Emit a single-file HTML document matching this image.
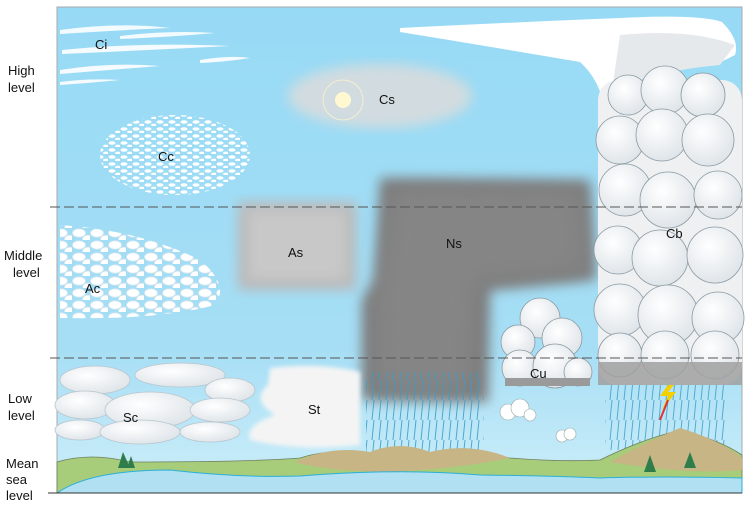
<!DOCTYPE html>
<html><head><style>
body{margin:0;background:#fff;width:750px;height:508px;overflow:hidden;font-family:"Liberation Sans",sans-serif}
</style></head><body>
<svg width="750" height="508" viewBox="0 0 750 508" xmlns="http://www.w3.org/2000/svg" font-family="Liberation Sans, sans-serif">
<defs>
<linearGradient id="sky" x1="0" y1="0" x2="0" y2="1">
<stop offset="0" stop-color="#97daf5"/><stop offset="0.7" stop-color="#a6def5"/><stop offset="1" stop-color="#cdeef9"/></linearGradient>
<radialGradient id="cl" cx="0.4" cy="0.35" r="0.7"><stop offset="0" stop-color="#fff"/><stop offset="1" stop-color="#dde3e8"/></radialGradient>
<filter id="b2"><feGaussianBlur stdDeviation="2"/></filter>
<filter id="b6"><feGaussianBlur stdDeviation="6"/></filter>
<filter id="b10"><feGaussianBlur stdDeviation="10"/></filter>
<pattern id="speck" width="12" height="7" patternUnits="userSpaceOnUse">
<ellipse cx="4" cy="3" rx="3.5" ry="1.8" fill="#fff"/><ellipse cx="10" cy="6" rx="3" ry="1.4" fill="#fff"/></pattern>
<pattern id="ac" width="18" height="12" patternUnits="userSpaceOnUse">
<ellipse cx="7" cy="5" rx="6.5" ry="4.2" fill="#fff" stroke="#d5e6ee" stroke-width="0.8"/><ellipse cx="16" cy="11" rx="5.5" ry="3.8" fill="#fff" stroke="#d5e6ee" stroke-width="0.8"/></pattern>
<pattern id="rain" width="7" height="20" patternUnits="userSpaceOnUse">
<line x1="3" y1="0" x2="1" y2="20" stroke="#3a9cc7" stroke-width="1"/></pattern>
</defs>
<rect x="57" y="7" width="685" height="486" fill="url(#sky)" stroke="#aaa" stroke-width="1"/>
<!-- Ci -->
<g fill="#fff" opacity="0.9">
<path d="M60 30 Q120 22 170 28 Q120 30 60 34Z"/><path d="M62 50 Q140 42 230 46 Q150 50 62 54Z"/>
<path d="M60 70 Q110 62 160 66 Q110 70 60 74Z"/><path d="M120 36 Q170 30 215 33 Q170 37 120 39Z"/>
<path d="M60 82 Q90 78 120 80 Q90 83 60 85Z"/><path d="M200 60 Q230 55 250 58 Q225 62 200 63Z"/>
</g>
<!-- Cs -->
<ellipse cx="380" cy="96" rx="92" ry="32" fill="#dcdcdc" filter="url(#b6)" opacity="0.85"/>
<circle cx="343" cy="100" r="8" fill="#fff8d0"/><circle cx="343" cy="100" r="20" fill="none" stroke="#f3efd0" stroke-width="1"/>
<!-- Cc -->
<ellipse cx="175" cy="155" rx="75" ry="40" fill="url(#speck)"/>
<!-- Ac -->
<path d="M60 225 Q140 230 200 260 Q230 285 215 305 Q160 320 60 318Z" fill="url(#ac)"/>
<!-- As -->
<rect x="238" y="202" width="118" height="88" fill="#b9b9b9" filter="url(#b6)"/>
<rect x="248" y="210" width="98" height="70" fill="#c8c8c8" filter="url(#b6)"/>
<!-- Ns -->
<g filter="url(#b6)">
<path d="M380 178 L590 180 L596 280 L490 290 L488 402 L362 400 L362 300 L375 280Z" fill="#7d7d7d"/>
</g>
<path d="M395 190 L580 192 L585 270 L475 280 L470 390 L375 390 L378 290Z" fill="#858585" filter="url(#b10)"/>
<!-- Cb anvil -->
<path d="M400 28 Q520 22 620 18 Q700 14 722 22 Q740 40 735 55 L715 65 Q650 70 630 75 Q612 85 610 100 L605 110 Q600 80 580 62 Q480 45 400 32Z" fill="#fff"/>
<path d="M620 35 Q690 28 735 45 L720 65 Q660 70 612 90Z" fill="#e6e9ec"/>
<!-- Cb column -->
<rect x="598" y="80" width="144" height="305" rx="20" fill="#eef0f2"/>
<g stroke="#8a9aa2" stroke-width="0.8" fill="url(#cl)">
<circle cx="628" cy="95" r="20"/><circle cx="665" cy="90" r="24"/><circle cx="703" cy="95" r="22"/>
<circle cx="620" cy="140" r="24"/><circle cx="662" cy="135" r="26"/><circle cx="708" cy="140" r="26"/>
<circle cx="625" cy="190" r="26"/><circle cx="668" cy="200" r="28"/><circle cx="718" cy="195" r="24"/>
<circle cx="618" cy="250" r="24"/><circle cx="660" cy="258" r="28"/><circle cx="715" cy="255" r="28"/>
<circle cx="620" cy="310" r="26"/><circle cx="668" cy="315" r="30"/><circle cx="718" cy="318" r="26"/>
<circle cx="620" cy="355" r="22"/><circle cx="665" cy="355" r="24"/><circle cx="715" cy="355" r="24"/>
</g>
<rect x="598" y="362" width="144" height="23" fill="#a0a0a0" opacity="0.85"/>
<rect x="605" y="385" width="120" height="65" fill="url(#rain)" opacity="0.8"/>
<path d="M668 385 L660 396 L668 396 L662 410 L676 392 L668 392 L674 385Z" fill="#f5d000"/>
<path d="M668 400 L660 420" stroke="#d33" stroke-width="2"/>
<!-- Cu -->
<g stroke="#8a9aa2" stroke-width="0.8" fill="url(#cl)">
<circle cx="540" cy="318" r="20"/><circle cx="518" cy="342" r="17"/><circle cx="562" cy="338" r="20"/>
<circle cx="520" cy="368" r="18"/><circle cx="555" cy="366" r="22"/><circle cx="578" cy="372" r="14"/>
</g>
<rect x="505" y="378" width="85" height="8" fill="#9a9a9a"/>
<g fill="#fff" stroke="#9aa" stroke-width="0.6"><circle cx="508" cy="412" r="8"/><circle cx="520" cy="408" r="9"/><circle cx="530" cy="415" r="6"/>
<circle cx="562" cy="436" r="6"/><circle cx="570" cy="434" r="6"/></g>
<!-- Sc -->
<g fill="url(#cl)" stroke="#b8c6ce" stroke-width="0.8">
<ellipse cx="95" cy="380" rx="35" ry="14"/><ellipse cx="180" cy="375" rx="45" ry="12"/><ellipse cx="230" cy="390" rx="25" ry="12"/>
<ellipse cx="85" cy="405" rx="30" ry="14"/><ellipse cx="150" cy="410" rx="45" ry="18"/><ellipse cx="220" cy="410" rx="30" ry="12"/>
<ellipse cx="80" cy="430" rx="25" ry="10"/><ellipse cx="140" cy="432" rx="40" ry="12"/><ellipse cx="210" cy="432" rx="30" ry="10"/>
</g>
<!-- St -->
<path d="M270 368 Q320 362 360 372 L360 445 Q300 452 250 440 Q245 425 275 415 Q250 400 268 385Z" fill="#f4f4f4" filter="url(#b2)"/>
<!-- Ns rain -->
<rect x="366" y="372" width="118" height="88" fill="url(#rain)" opacity="0.85"/>
<!-- ground -->
<path d="M57 462 Q90 452 130 462 Q250 462 300 458 Q330 448 360 455 Q400 445 430 455 Q470 448 510 458 Q560 462 600 460 Q640 440 680 430 Q720 440 742 455 L742 493 L57 493Z" fill="#a7cc7a" stroke="#6e7d60" stroke-width="0.8"/>
<path d="M295 462 Q330 445 370 452 Q400 440 430 452 Q470 442 510 458 Q450 470 380 472 Q320 470 295 462Z" fill="#c7b586"/>
<path d="M610 462 Q650 440 680 428 Q720 440 742 458 L742 470 Q690 475 610 462Z" fill="#c7b586"/>
<path d="M57 493 Q90 470 170 470 Q240 478 300 476 Q400 468 480 475 Q560 476 600 478 Q660 476 742 478 L742 493Z" fill="#b1e0f2" stroke="#2cb0d8" stroke-width="1"/>
<g fill="#2e7d4a"><path d="M123 452 L118 468 L130 468Z"/><path d="M131 456 L127 468 L135 468Z"/>
<path d="M650 455 L644 472 L656 472Z"/><path d="M690 452 L684 468 L696 468Z"/></g>
<!-- dashed lines -->
<line x1="50" y1="207" x2="742" y2="207" stroke="#555" stroke-width="1" stroke-dasharray="10,4"/>
<line x1="50" y1="358" x2="742" y2="358" stroke="#555" stroke-width="1" stroke-dasharray="10,4"/>
<line x1="48" y1="493" x2="742" y2="493" stroke="#333" stroke-width="1"/>
<!-- labels -->
<g font-size="13" fill="#111">
<text x="95" y="49">Ci</text><text x="379" y="104">Cs</text><text x="158" y="161">Cc</text>
<text x="288" y="257">As</text><text x="446" y="248">Ns</text><text x="85" y="293">Ac</text>
<text x="666" y="238">Cb</text><text x="530" y="378">Cu</text><text x="123" y="422">Sc</text><text x="308" y="414">St</text>
<text x="8" y="75">High</text><text x="8" y="92">level</text>
<text x="4" y="260">Middle</text><text x="13" y="277">level</text>
<text x="8" y="403">Low</text><text x="8" y="420">level</text>
<text x="6" y="468">Mean</text><text x="6" y="484">sea</text><text x="6" y="500">level</text>
</g>
</svg>
</body></html>
